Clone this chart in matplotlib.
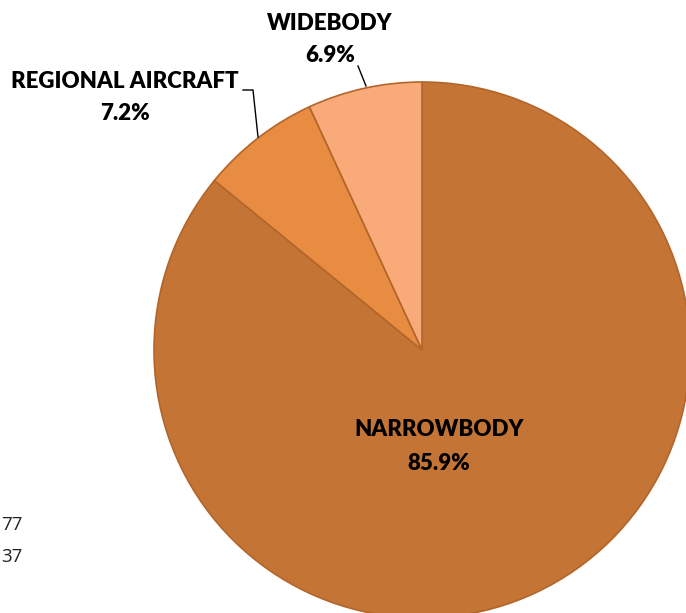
import matplotlib.pyplot as plt

# aircraft deliveries share by segment
segments = ["NARROWBODY", "REGIONAL AIRCRAFT", "WIDEBODY"]
shares = [85.9, 7.2, 6.9]
colors = ["#C47535", "#E88C42", "#F8AB79"]

W, H = 686, 613
fig = plt.figure(figsize=(W / 100, H / 100), dpi=100)
ax = fig.add_axes([0, 0, 1, 1])

cx, cy, r = 422, H - 350, 268
ax.pie(shares, colors=colors, startangle=90, counterclock=False,
       radius=r, center=(cx, cy), frame=True,
       wedgeprops=dict(edgecolor="#B3652A", linewidth=1.2))
ax.set_xlim(0, W)
ax.set_ylim(0, H)
ax.set_aspect("equal")
ax.axis("off")

font = dict(family=["Lato", "DejaVu Sans"], fontsize=16, fontweight="heavy",
            ha="center", va="center", color="black")

# labels
ax.text(439, H - 430, segments[0], **font)
ax.text(439, H - 463, f"{shares[0]}%", **font)
ax.text(125, H - 82, segments[1], **font)
ax.text(125, H - 114, f"{shares[1]}%", **font)
ax.text(330, H - 24, segments[2], **font)
ax.text(330, H - 55, f"{shares[2]}%", **font)

# leader lines
ax.plot([243, 253, 258], [H - 90, H - 90, H - 137], color="black", lw=1)
ax.plot([358, 366], [H - 66, H - 86], color="black", lw=1)

# cut-off text at left edge
small = dict(family=["Open Sans", "DejaVu Sans"], fontsize=13.5, ha="right",
             va="center", color="#222222")
ax.text(23, H - 525, "77", **small)
ax.text(23, H - 557, "37", **small)

fig.savefig("out.png", dpi=100)
